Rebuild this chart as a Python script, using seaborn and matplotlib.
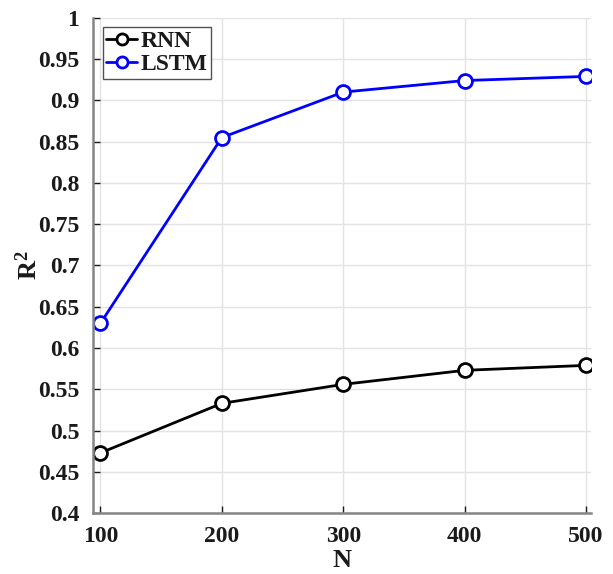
import matplotlib
matplotlib.use("Agg")
import matplotlib.pyplot as plt
import seaborn as sns
import pandas as pd

N = [100, 200, 300, 400, 500]
rnn = [0.473, 0.533, 0.556, 0.573, 0.579]
lstm = [0.630, 0.855, 0.910, 0.924, 0.929]
yticks = [0.4, 0.45, 0.5, 0.55, 0.6, 0.65, 0.7, 0.75, 0.8, 0.85, 0.9, 0.95, 1.0]
ytick_labels = ["0.4", "0.45", "0.5", "0.55", "0.6", "0.65", "0.7", "0.75", "0.8", "0.85", "0.9", "0.95", "1"]
xticks = [100, 200, 300, 400, 500]

df = pd.DataFrame({"N": N * 2, "R2": rnn + lstm,
                   "model": ["RNN"] * len(N) + ["LSTM"] * len(N)})

sns.set_theme(style="white")
plt.rcParams['font.family'] = ['Liberation Serif', 'DejaVu Serif']
plt.rcParams['font.weight'] = 'bold'
plt.rcParams['mathtext.fontset'] = 'custom'
plt.rcParams['mathtext.rm'] = 'Liberation Serif:bold'
plt.rcParams['mathtext.bf'] = 'Liberation Serif:bold'
plt.rcParams['mathtext.default'] = 'rm'

fig = plt.figure(figsize=(6.13, 5.74), dpi=100)
ax = fig.add_axes([0.152, 0.106, 0.812, 0.863])

sns.lineplot(data=df, x="N", y="R2", hue="model", palette={"RNN": "black", "LSTM": "#0000ff"},
             marker="o", markersize=10, markerfacecolor="white", markeredgewidth=2,
             linewidth=2, ax=ax, legend=True)
for line in ax.lines:
    line.set_markeredgecolor(line.get_color())

ax.set_xlim(94, 504)
ax.set_ylim(0.4, 1.0)
ax.set_xticks(xticks)
ax.set_xticklabels([str(v) for v in xticks])
ax.set_yticks(yticks)
ax.set_yticklabels(ytick_labels)
ax.grid(True, color="#e3e3e3", linewidth=1)
ax.set_axisbelow(True)
for s in ["top", "right"]:
    ax.spines[s].set_visible(False)
for s in ["left", "bottom"]:
    ax.spines[s].set_color("#858585")
    ax.spines[s].set_linewidth(1.8)
ax.tick_params(direction="in", length=5, width=1, colors="#1a1a1a", labelsize=17,
               left=True, bottom=True)
ax.tick_params(axis="x", pad=9)
ax.tick_params(axis="y", pad=10)
for lbl in ax.get_xticklabels() + ax.get_yticklabels():
    lbl.set_fontweight("bold")
    lbl.set_color("#1a1a1a")
ax.set_xlabel("N", fontsize=19, fontweight="bold", color="#1a1a1a")
ax.set_ylabel("R$^{2}$", fontsize=19, fontweight="bold", color="#1a1a1a")
ax.xaxis.set_label_coords(0.5, -0.096, transform=ax.transAxes)
ax.yaxis.set_label_coords(-0.13, 0.5, transform=ax.transAxes)
ax.xaxis.label.set_verticalalignment("center")
ax.yaxis.label.set_verticalalignment("center")

handles, labels = ax.get_legend_handles_labels()
leg = ax.legend(handles, labels, loc="upper left", frameon=True, fancybox=False,
                borderpad=0.15, handlelength=1.3, handletextpad=0.15, labelspacing=0.05,
                borderaxespad=0.4, prop={"weight": "bold", "size": 17})
leg.get_frame().set_edgecolor("#262626")
leg.get_frame().set_linewidth(1)
for h in leg.legend_handles:
    h.set_markersize(8)
for t in leg.get_texts():
    t.set_color("#1a1a1a")

fig.savefig("out.png", dpi=100)
